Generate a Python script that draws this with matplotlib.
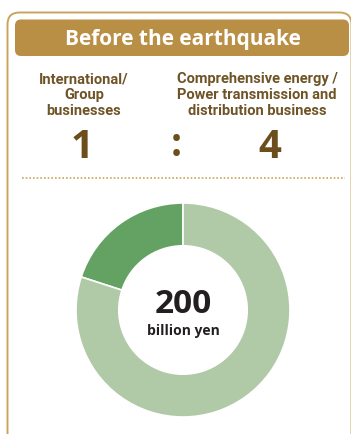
import matplotlib
matplotlib.use("Agg")
import matplotlib.pyplot as plt
from matplotlib.patches import FancyBboxPatch
from matplotlib.lines import Line2D

# data
title = "Before the earthquake"
labels = ["International/\nGroup\nbusinesses",
          "Comprehensive energy /\nPower transmission and\ndistribution business"]
ratio = [1, 4]
total_value = "200"
total_unit = "billion yen"
wedge_colors = ["#64a263", "#b0c9a6"]

W, H = 351, 434
fig = plt.figure(figsize=(W / 100, H / 100), dpi=100)
fig.patch.set_facecolor("white")

# full-figure axes in pixel coords
bg = fig.add_axes([0, 0, 1, 1])
bg.set_xlim(0, W)
bg.set_ylim(H, 0)
bg.axis("off")

gold = "#b98f45"
brown = "#6e5426"

# outer frame (runs past the bottom and right edges)
frame = FancyBboxPatch((7.5, 12.5), 344, 440, boxstyle="round,pad=0,rounding_size=12",
                       fc="none", ec="#c9a45c", lw=1.4)
bg.add_patch(frame)

# header band
band = FancyBboxPatch((15, 19.5), 334, 36.5, boxstyle="round,pad=0,rounding_size=6",
                      fc=gold, ec="none")
bg.add_patch(band)
bg.text(183, 39, title, color="white", fontsize=15, fontweight="bold",
        family="Open Sans", ha="center", va="center")

# category labels
label_x = [84, 257]
for x, lab in zip(label_x, labels):
    bg.text(x, 95, lab, color=brown, fontsize=10.5, fontweight="bold",
            family="Roboto", ha="center", va="center", linespacing=1.15)

# ratio numbers
num_color = "#6b4e1c"
bg.text(82, 148, str(ratio[0]), color=num_color, fontsize=29, fontweight="bold",
        family="Open Sans", ha="center", va="center")
bg.text(176, 145, ":", color=num_color, fontsize=28, fontweight="bold",
        family="Open Sans", ha="center", va="center")
bg.text(270, 148, str(ratio[1]), color=num_color, fontsize=29, fontweight="bold",
        family="Open Sans", ha="center", va="center")

# dotted separator
bg.add_line(Line2D([22, 345], [178, 178], color="#c9a45c", lw=1.2, ls=(0, (1, 1.2))))

# donut
cx, cy, r = 183, 310, 107
ax = fig.add_axes([(cx - r) / W, 1 - (cy + r) / H, 2 * r / W, 2 * r / H])
ax.pie(ratio, colors=wedge_colors, startangle=90, counterclock=True,
       wedgeprops=dict(width=0.4, edgecolor="white", linewidth=1.2))
ax.set_xlim(-1, 1)
ax.set_ylim(-1, 1)
ax.set_aspect("equal")
ax.axis("off")

ax.text(0, 0.05, total_value, color="#231f20", fontsize=24, fontweight="bold",
        family="Open Sans", ha="center", va="center")
ax.text(0, -0.2, total_unit, color="#231f20", fontsize=10, fontweight="bold",
        family="Open Sans", ha="center", va="center")

fig.savefig("out.png", dpi=100)
